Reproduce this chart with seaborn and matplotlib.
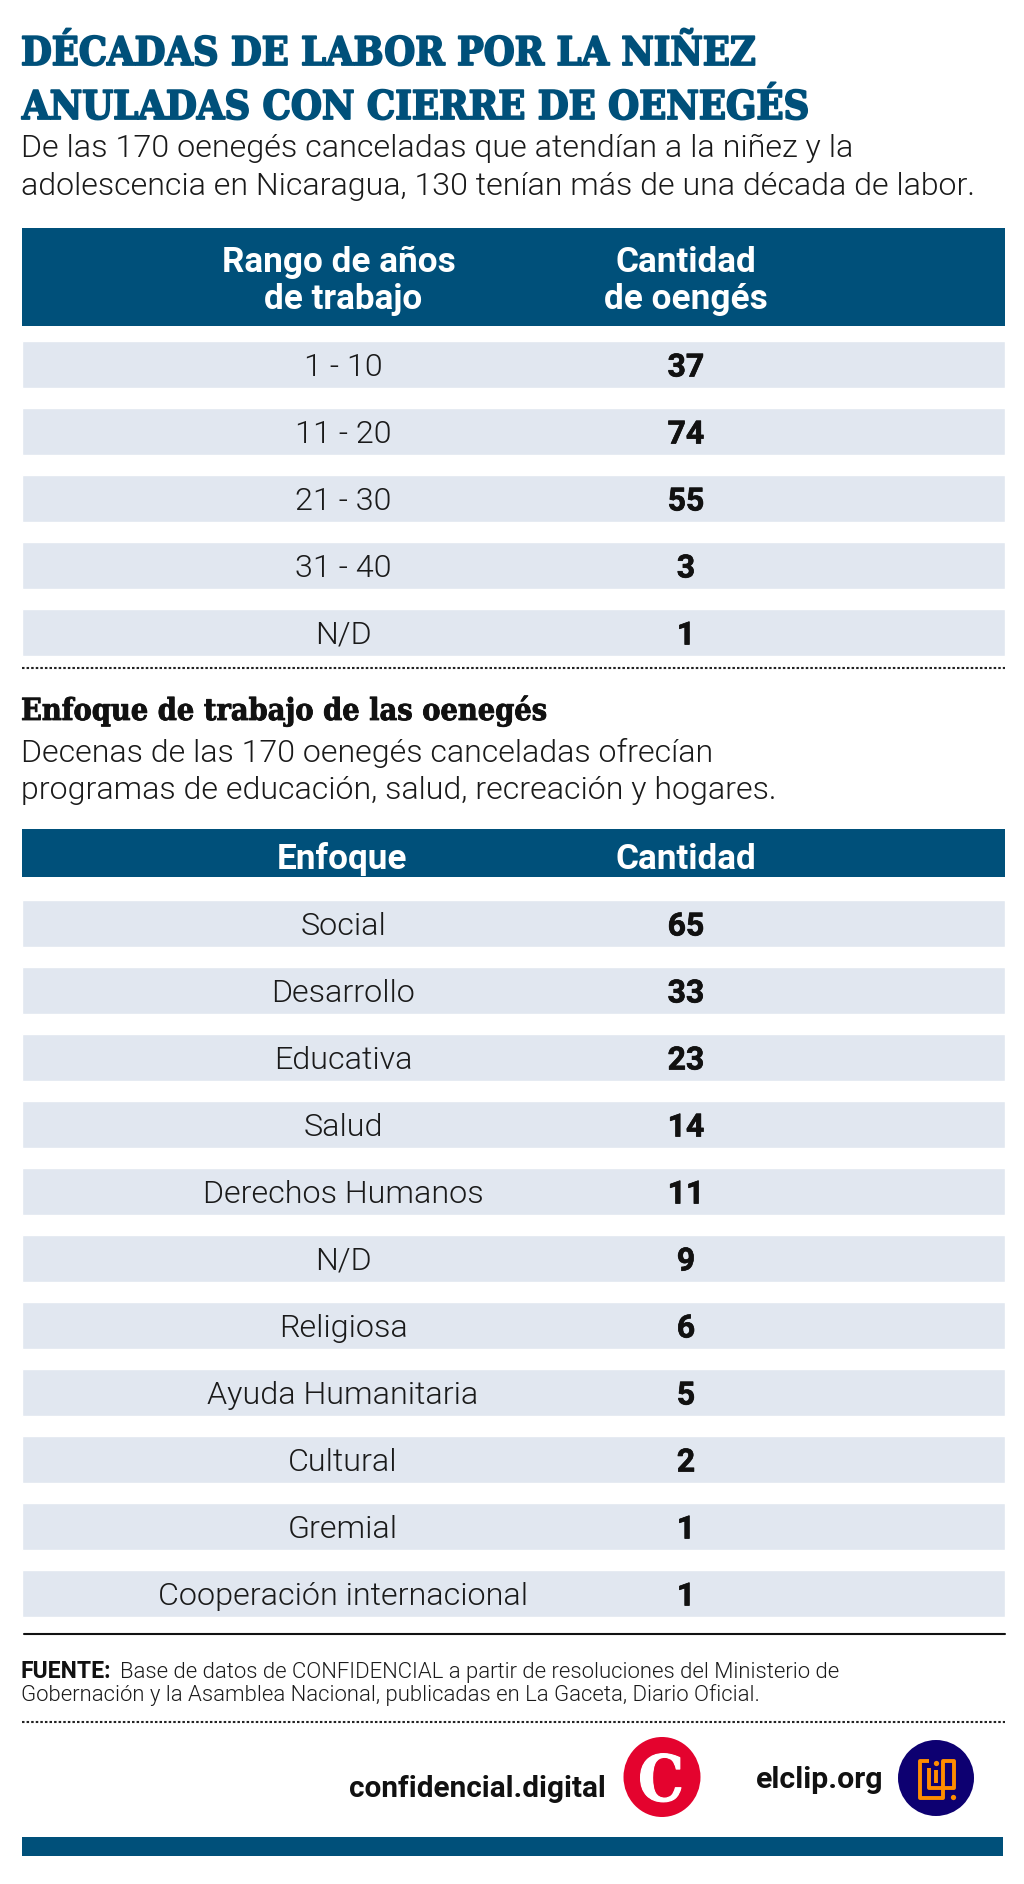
import numpy as np
import pandas as pd
import matplotlib
matplotlib.use("Agg")
import matplotlib.pyplot as plt
import matplotlib.patheffects as pe
from matplotlib.patches import Ellipse, Rectangle
import seaborn as sns

sns.set_theme(style="white")
plt.rcParams["font.family"] = ["Roboto", "DejaVu Sans"]

rango_labels = ["1 - 10", "11 - 20", "21 - 30", "31 - 40", "N/D"]
rango_values = [37, 74, 55, 3, 1]
enfoque_labels = ["Social", "Desarrollo", "Educativa", "Salud", "Derechos Humanos", "N/D",
                  "Religiosa", "Ayuda Humanitaria", "Cultural", "Gremial",
                  "Cooperación internacional"]
enfoque_values = [65, 33, 23, 14, 11, 9, 6, 5, 2, 1, 1]

BLUE = "#00507A"
ROW = "#E1E7F0"
INK = "#1a1a1a"
W, H = 1024, 1884
LEFT, RIGHT = 22, 1005
COL1, COL2 = 343, 686
fig = plt.figure(figsize=(W / 100, H / 100), dpi=100, facecolor="white")

bg = fig.add_axes([0, 0, 1, 1])
bg.set_xlim(0, W)
bg.set_ylim(H, 0)
bg.axis("off")


def heavy(color, lw=0.7):
    return [pe.withStroke(linewidth=lw, foreground=color)]


def table(labels, values, top):
    n = len(labels)
    pitch, bar = 67, 47
    y0 = top - (pitch - bar) / 2
    span = RIGHT - LEFT
    ax = fig.add_axes([LEFT / W, 1 - (y0 + n * pitch) / H, span / W, n * pitch / H])
    ax.patch.set_alpha(0)
    df = pd.DataFrame({"rango": labels, "ancho": [1.0] * n})
    sns.barplot(data=df, y="rango", x="ancho", color=ROW, width=bar / pitch, saturation=1, ax=ax)
    ax.set_xlim(0, 1)
    ax.set_ylim(n - 0.5, -0.5)
    ax.axis("off")
    for i, (lab, val) in enumerate(zip(labels, values)):
        ax.text((COL1 - LEFT) / span, i, lab, ha="center", va="center_baseline", fontsize=23.2,
                fontweight=300, color=INK)
        ax.text((COL2 - LEFT) / span, i, str(val), ha="center", va="center_baseline", fontsize=23,
                fontweight="bold", color="#111111", path_effects=heavy("#111111", 0.5))


SERIF = dict(family=["DejaVu Serif"], fontstretch="condensed", fontweight="bold")
bg.text(21, 65, "DÉCADAS DE LABOR POR LA NIÑEZ", fontsize=28.4, color=BLUE,
        path_effects=heavy(BLUE, 1.3), **SERIF)
bg.text(22, 119, "ANULADAS CON CIERRE DE OENEGÉS", fontsize=28.5, color=BLUE,
        path_effects=heavy(BLUE, 1.3), **SERIF)
bg.text(21, 157, "De las 170 oenegés canceladas que atendían a la niñez y la", fontsize=23.2, fontweight=300, color=INK)
bg.text(21, 195, "adolescencia en Nicaragua, 130 tenían más de una década de labor.", fontsize=23.1, fontweight=300, color=INK)

bg.add_patch(Rectangle((LEFT, 228), RIGHT - LEFT, 98, color=BLUE, lw=0))
for x, y, s in [(339, 272, "Rango de años"), (343, 309, "de trabajo"),
                (686, 272, "Cantidad"), (686, 309, "de oengés")]:
    bg.text(x, y, s, ha="center", fontsize=25.3, fontweight="bold", color="white")
table(rango_labels, rango_values, 341)

bg.plot([LEFT, RIGHT], [668, 668], color="#222222", lw=1.5, ls=(0, (1.2, 1.0)))
bg.text(21, 720, "Enfoque de trabajo de las oenegés", fontsize=21.9, color="#111111",
        path_effects=heavy("#111111", 0.6), **SERIF)
bg.text(21, 762, "Decenas de las 170 oenegés canceladas ofrecían", fontsize=23.1, fontweight=300, color=INK)
bg.text(21, 799, "programas de educación, salud, recreación y hogares.", fontsize=23.1, fontweight=300, color=INK)

bg.add_patch(Rectangle((LEFT, 829), RIGHT - LEFT, 48, color=BLUE, lw=0))
bg.text(342, 869, "Enfoque", ha="center", fontsize=25.3, fontweight="bold", color="white")
bg.text(686, 869, "Cantidad", ha="center", fontsize=25.3, fontweight="bold", color="white")
table(enfoque_labels, enfoque_values, 900)

bg.plot([24, RIGHT], [1634, 1634], color="#111111", lw=1.5)
bg.text(21, 1678, "FUENTE:", fontsize=16.6, fontweight="bold", color="#111111")
bg.text(120, 1678, "Base de datos de CONFIDENCIAL a partir de resoluciones del Ministerio de", fontsize=15.9, fontweight=300, color=INK)
bg.text(21, 1701, "Gobernación y la Asamblea Nacional, publicadas en La Gaceta, Diario Oficial.", fontsize=15.9, fontweight=300, color=INK)
bg.plot([LEFT, RIGHT], [1722, 1722], color="#222222", lw=1.5, ls=(0, (1.2, 1.0)))

bg.text(606, 1797, "confidencial.digital", ha="right", fontsize=21.4, fontweight="bold", color="#111111")
bg.add_patch(Ellipse((662, 1777), 77, 80, color="#E4032E", lw=0))
bg.text(661, 1777, "C", ha="center", va="center_baseline", fontsize=46, color="white",
        path_effects=heavy("white", 0.8), **SERIF)
bg.text(883, 1788, "elclip.org", ha="right", fontsize=21.8, fontweight="bold", color="#111111")
bg.add_patch(Ellipse((936, 1778), 76, 76, color="#0D0071", lw=0))
OR = "#FF8C00"


def lx(v):
    return 890 + np.array(v) / 3


def ly(v):
    return 1735 + np.array(v) / 3


bg.plot(lx([118, 90, 90, 160, 160, 192, 192, 118, 118]), ly([77, 77, 188, 188, 77, 77, 160, 160, 100]),
        color=OR, lw=2.8, solid_capstyle="butt", solid_joinstyle="round")
bg.plot(lx([137, 137]), ly([105, 145]), color=OR, lw=2.8, solid_capstyle="butt")
bg.plot(lx([137, 190]), ly([85, 186]), "o", color=OR, ms=3.8, mew=0)
bg.add_patch(Rectangle((22, 1837), 981, 19, color=BLUE, lw=0))

fig.savefig("out.png", dpi=100, facecolor="white")
